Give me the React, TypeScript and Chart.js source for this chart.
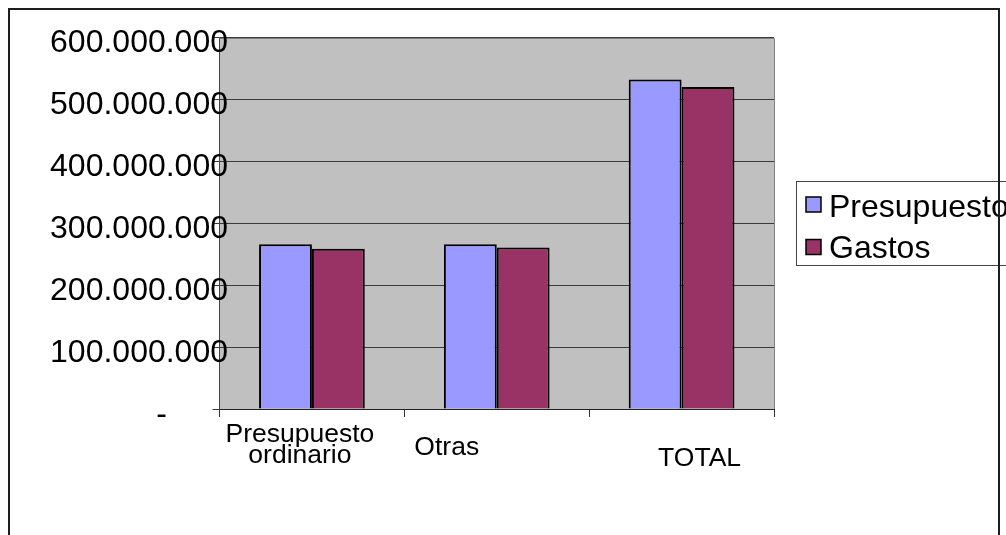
import React, { useEffect, useRef } from "react";
import { Chart, registerables } from "chart.js";

Chart.register(...registerables);

const categories: string[][] = [["Presupuesto", "ordinario"], ["Otras"], ["TOTAL"]];
const presupuesto: number[] = [266000000, 266000000, 532000000];
const gastos: number[] = [259000000, 261000000, 520000000];
const seriesNames: string[] = ["Presupuesto", "Gastos"];
const yTicks: number[] = [0, 100000000, 200000000, 300000000, 400000000, 500000000, 600000000];

const FONT = "'Liberation Sans', Arial, sans-serif";

// label placement quirks of the original (pixel shift from category centre, baseline of last line)
const labelShift = [
  { dx: -12, base: 463 },
  { dx: -50, base: 455 },
  { dx: 18, base: 466 },
];

function fmt(v: number): string {
  if (v === 0) return "-";
  return Math.round(v)
    .toString()
    .replace(/\B(?=(\d{3})+(?!\d))/g, ".");
}

const decor = {
  id: "decor",
  beforeDraw(chart: any) {
    const { ctx, chartArea: a } = chart;
    ctx.save();
    ctx.fillStyle = "#ffffff";
    ctx.fillRect(0, 0, chart.width, chart.height);
    ctx.fillStyle = "#C0C0C0";
    ctx.fillRect(a.left, a.top, a.right - a.left, a.bottom - a.top);
    ctx.restore();
  },
  afterDraw(chart: any) {
    const { ctx, chartArea: a } = chart;
    const y = chart.scales.y;
    const x = chart.scales.x;
    ctx.save();
    // plot border top & right
    ctx.strokeStyle = "#808080";
    ctx.lineWidth = 1;
    ctx.beginPath();
    ctx.moveTo(a.left, Math.round(a.top) + 0.5);
    ctx.lineTo(Math.round(a.right) + 0.5, Math.round(a.top) + 0.5);
    ctx.lineTo(Math.round(a.right) + 0.5, a.bottom);
    ctx.stroke();

    // y labels
    ctx.fillStyle = "#000";
    ctx.font = `32px ${FONT}`;
    ctx.textBaseline = "alphabetic";
    yTicks.forEach((v) => {
      const py = y.getPixelForValue(v);
      const s = fmt(v);
      if (v === 0) {
        ctx.textAlign = "center";
        ctx.fillText(s, 161.5, py + 14.5);
      } else {
        ctx.textAlign = "right";
        ctx.fillText(s, 228, py + 14.5);
      }
    });

    // x labels
    ctx.font = `26.5px ${FONT}`;
    ctx.textAlign = "center";
    categories.forEach((lines, i) => {
      const cx = x.getPixelForValue(i) + labelShift[i].dx;
      const n = lines.length;
      lines.forEach((ln, j) => {
        ctx.fillText(ln, cx, labelShift[i].base - (n - 1 - j) * 21.5);
      });
    });

    // legend
    ctx.fillStyle = "#fff";
    ctx.fillRect(796.5, 181.5, 240, 84);
    ctx.strokeStyle = "#444";
    ctx.lineWidth = 1;
    ctx.strokeRect(796.5, 181.5, 240, 84);
    ctx.font = `32px ${FONT}`;
    ctx.textAlign = "left";
    const ds = chart.data.datasets;
    const rows = [
      { sq: 197, base: 217 },
      { sq: 239.5, base: 258 },
    ];
    ds.forEach((d: any, i: number) => {
      ctx.fillStyle = d.backgroundColor;
      ctx.fillRect(806, rows[i].sq, 15, 15);
      ctx.strokeStyle = "#000";
      ctx.lineWidth = 1.5;
      ctx.strokeRect(806, rows[i].sq, 15, 15);
      ctx.fillStyle = "#000";
      ctx.fillText(d.label, 829, rows[i].base);
    });

    // outer border
    ctx.strokeStyle = "#1e1e1e";
    ctx.lineWidth = 2;
    ctx.strokeRect(9, 9, 990, 700);
    ctx.restore();
  },
};

export default function App() {
  const ref = useRef<HTMLCanvasElement | null>(null);
  useEffect(() => {
    document.body.style.margin = "0";
    if (!ref.current) return;
    const chart = new Chart(ref.current, {
      type: "bar",
      data: {
        labels: categories.map((c) => c.join(" ")),
        datasets: [
          {
            label: seriesNames[0],
            data: presupuesto,
            backgroundColor: "#9999FF",
            borderColor: "#000000",
            borderWidth: 2,
          },
          {
            label: seriesNames[1],
            data: gastos,
            backgroundColor: "#993366",
            borderColor: "#000000",
            borderWidth: 2,
          },
        ],
      },
      options: {
        responsive: false,
        animation: false,
        devicePixelRatio: 1,
        layout: { padding: { left: 212.5, top: 37.5, right: 232, bottom: 118 } },
        plugins: {
          legend: { display: false },
          tooltip: { enabled: false },
        },
        datasets: {
          bar: { categoryPercentage: 0.572, barPercentage: 1 },
        },
        scales: {
          x: {
            grid: {
              display: true,
              drawOnChartArea: false,
              drawTicks: true,
              tickLength: 8,
              color: "#333",
              offset: true,
            },
            border: { display: true, color: "#222", width: 1 },
            ticks: { display: false },
          },
          y: {
            min: 0,
            max: 600000000,
            afterBuildTicks: (s: any) => {
              s.ticks = yTicks.map((v) => ({ value: v }));
            },
            grid: { color: "#3a3a3a", lineWidth: 1, drawTicks: true, tickLength: 7 },
            border: { display: true, color: "#444", width: 1 },
            ticks: { display: false },
          },
        },
      },
      plugins: [decor],
    });
    return () => chart.destroy();
  }, []);
  return (
    <div style={{ position: "fixed", left: 0, top: 0, width: 1006, height: 535 }}>
      <canvas ref={ref} width={1006} height={535} style={{ display: "block" }} />
    </div>
  );
}
